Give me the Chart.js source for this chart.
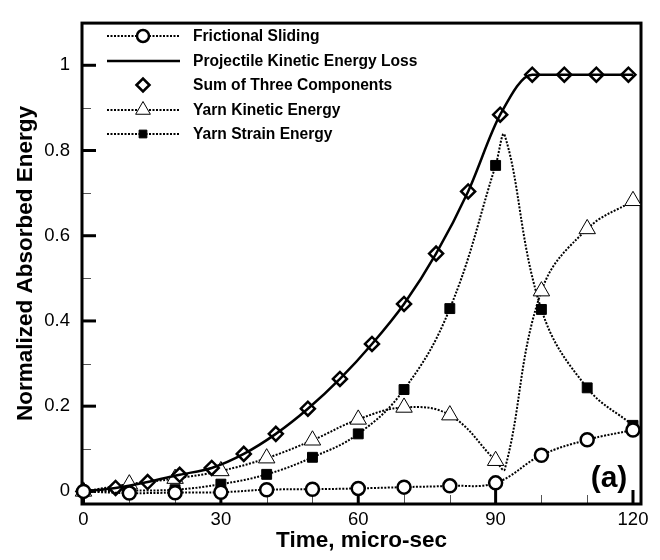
<!DOCTYPE html>
<html>
<head>
<meta charset="utf-8">
<script src="https://cdn.jsdelivr.net/npm/chart.js@4.4.1/dist/chart.umd.min.js"></script>
<style>
    html, body { margin: 0; padding: 0; background: #fff; }
    #energy-chart { display: block; }
</style>
</head>
<body>
<canvas id="energy-chart" width="660" height="560"></canvas>
<script>
// time points (micro-sec) and normalized energies
var frictionTime = [0, 10, 20, 30, 40, 50, 60, 70, 80, 90, 100, 110, 120];
var frictionalSliding = [0, -0.004, -0.003, -0.002, 0.004, 0.005, 0.007, 0.010, 0.013, 0.020, 0.085, 0.121, 0.144];

var projectileTime = [0, 7, 14, 21, 28, 35, 42, 49, 56, 63, 70, 77, 84, 91, 98, 105, 112, 119, 120];
var projectileLoss = [0, 0.008, 0.022, 0.039, 0.055, 0.088, 0.135, 0.194, 0.264, 0.346, 0.440, 0.558, 0.704, 0.884, 0.978, 0.978, 0.978, 0.978, 0.978];

var sumTime = [0, 7, 14, 21, 28, 35, 42, 49, 56, 63, 70, 77, 84, 91, 98, 105, 112, 119];
var sumOfThree = [0, 0.008, 0.022, 0.039, 0.055, 0.088, 0.135, 0.194, 0.264, 0.346, 0.440, 0.558, 0.704, 0.884, 0.978, 0.978, 0.978, 0.978];

// 92 is where the drawn curves turn (no marker there)
var kineticTime = [0, 10, 20, 30, 40, 50, 60, 70, 80, 90, 92, 100, 110, 120];
var yarnKinetic = [0, 0.017, 0.030, 0.048, 0.078, 0.120, 0.169, 0.197, 0.179, 0.072, 0.052, 0.470, 0.616, 0.682];

var strainTime = [0, 10, 20, 30, 40, 50, 60, 70, 80, 90, 92, 100, 110, 120];
var yarnStrain = [0, 0.002, 0.004, 0.017, 0.040, 0.080, 0.135, 0.239, 0.429, 0.765, 0.835, 0.427, 0.243, 0.155];

var yMajorTicks = [0, 0.2, 0.4, 0.6, 0.8, 1];
var yMinorTicks = [0.1, 0.3, 0.5, 0.7, 0.9];
var xMajorTicks = [0, 30, 60, 90, 120];
var xMinorTicks = [10, 20, 40, 50, 70, 80, 100, 110];

function toPoints(xs, ys) {
    return xs.map(function (x, i) { return { x: x, y: ys[i] }; });
}
function markerOnTens(r) {
    return function (c) { return (c.raw && c.raw.x % 10 !== 0) ? 0 : r; };
}

Chart.defaults.font.family = '"Liberation Sans", Arial, sans-serif';
Chart.defaults.color = '#000';

var dotted = [2, 1.5];

var framePlugin = {
    id: 'frameTicks',
    beforeDatasetsDraw: function (chart) {
        var ctx = chart.ctx, a = chart.chartArea;
        var xs = chart.scales.x, ys = chart.scales.y;
        ctx.save();
        ctx.lineCap = 'butt';
        // minor ticks
        ctx.lineWidth = 1;
        ctx.strokeStyle = '#555';
        yMinorTicks.forEach(function (v) {
            var p = Math.round(ys.getPixelForValue(v)) + 0.5;
            ctx.beginPath(); ctx.moveTo(a.left, p); ctx.lineTo(a.left + 9, p); ctx.stroke();
        });
        xMinorTicks.forEach(function (v) {
            var p = Math.round(xs.getPixelForValue(v)) + 0.5;
            ctx.beginPath(); ctx.moveTo(p, a.bottom); ctx.lineTo(p, a.bottom - 9); ctx.stroke();
        });
        // major ticks
        ctx.strokeStyle = '#000';
        ctx.lineWidth = 3;
        yMajorTicks.forEach(function (v) {
            var p = ys.getPixelForValue(v);
            ctx.beginPath(); ctx.moveTo(a.left, p); ctx.lineTo(a.left + 14, p); ctx.stroke();
        });
        xMajorTicks.forEach(function (v) {
            var p = xs.getPixelForValue(v);
            ctx.beginPath(); ctx.moveTo(p, a.bottom); ctx.lineTo(p, a.bottom - 14); ctx.stroke();
        });
        // frame
        ctx.strokeRect(a.left, a.top, a.right - a.left, a.bottom - a.top);
        ctx.restore();
    },
    afterDraw: function (chart) {
        var ctx = chart.ctx;
        var rows = [36, 61, 85, 110, 134];
        chart.data.datasets.forEach(function (ds, i) {
            var y = rows[i];
            ctx.save();
            ctx.strokeStyle = '#000';
            if (ds.showLine !== false) {
                ctx.lineWidth = ds.borderWidth;
                ctx.setLineDash(ds.borderDash || []);
                ctx.beginPath(); ctx.moveTo(107, y); ctx.lineTo(180, y); ctx.stroke();
            }
            ctx.setLineDash([]);
            if (ds.legendRadius) {
                ctx.fillStyle = ds.pointBackgroundColor;
                ctx.lineWidth = ds.pointBorderWidth;
                Chart.helpers.drawPoint(ctx, {
                    pointStyle: ds.pointStyle, radius: ds.legendRadius,
                    rotation: 0, borderWidth: ds.pointBorderWidth
                }, 143, y);
            }
            ctx.fillStyle = '#000';
            ctx.font = 'bold 15.6px "Liberation Sans", Arial, sans-serif';
            ctx.textBaseline = 'middle';
            ctx.fillText(ds.label, 193, y + 1);
            ctx.restore();
        });
        ctx.save();
        ctx.fillStyle = '#000';
        ctx.font = 'bold 30px "Liberation Sans", Arial, sans-serif';
        ctx.textAlign = 'center';
        ctx.textBaseline = 'middle';
        ctx.fillText('(a)', 609, 479);
        ctx.restore();
    }
};

var ctx = document.getElementById('energy-chart');
var chart = new Chart(ctx, {
    type: 'line',
    data: {
        datasets: [{
            label: 'Frictional Sliding',
            data: toPoints(frictionTime, frictionalSliding),
            borderColor: '#000',
            borderWidth: 2,
            borderDash: dotted,
            tension: 0.4,
            pointStyle: 'circle',
            pointRadius: 6.5,
            legendRadius: 6,
            pointBorderWidth: 2.5,
            pointBackgroundColor: '#fff',
            pointBorderColor: '#000',
            clip: false
        }, {
            label: 'Projectile Kinetic Energy Loss',
            data: toPoints(projectileTime, projectileLoss),
            borderColor: '#000',
            borderWidth: 2.5,
            cubicInterpolationMode: 'monotone',
            pointRadius: 0,
            legendRadius: 0,
            clip: false
        }, {
            label: 'Sum of Three Components',
            data: toPoints(sumTime, sumOfThree),
            showLine: false,
            pointStyle: 'rectRot',
            pointRadius: 7,
            legendRadius: 6.5,
            pointBorderWidth: 2.5,
            pointBackgroundColor: '#fff',
            pointBorderColor: '#000',
            clip: false
        }, {
            label: 'Yarn Kinetic Energy',
            data: toPoints(kineticTime, yarnKinetic),
            borderColor: '#000',
            borderWidth: 2,
            borderDash: dotted,
            tension: 0.4,
            pointStyle: 'triangle',
            pointRadius: markerOnTens(9.5),
            legendRadius: 8.5,
            pointBorderWidth: 1,
            pointBackgroundColor: '#fff',
            pointBorderColor: '#000',
            clip: false
        }, {
            label: 'Yarn Strain Energy',
            data: toPoints(strainTime, yarnStrain),
            borderColor: '#000',
            borderWidth: 2,
            borderDash: dotted,
            tension: 0.4,
            pointStyle: 'rect',
            pointRadius: markerOnTens(7),
            legendRadius: 5.5,
            pointBorderWidth: 1,
            pointBackgroundColor: '#000',
            pointBorderColor: '#000',
            clip: false
        }]
    },
    options: {
        responsive: false,
        animation: false,
        devicePixelRatio: 1,
        layout: { padding: { left: 0, top: 9, right: 19, bottom: 0 } },
        plugins: { legend: { display: false }, tooltip: { enabled: false } },
        scales: {
            x: {
                type: 'linear',
                min: -0.33,
                max: 121.75,
                afterBuildTicks: function (scale) {
                    scale.ticks = xMajorTicks.map(function (v) { return { value: v }; });
                },
                afterFit: function (scale) { scale.height = 56; },
                grid: { display: false, drawTicks: false },
                border: { display: false },
                ticks: { font: { size: 18.5 }, padding: 5, maxRotation: 0 },
                title: {
                    display: true,
                    text: 'Time, micro-sec',
                    font: { size: 22.5, weight: 'bold' },
                    padding: { top: 0, bottom: 5.5 }
                }
            },
            y: {
                type: 'linear',
                min: -0.0296,
                max: 1.099,
                afterBuildTicks: function (scale) {
                    scale.ticks = yMajorTicks.map(function (v) { return { value: v }; });
                },
                afterFit: function (scale) { scale.width = 82; },
                grid: { display: false, drawTicks: false },
                border: { display: false },
                ticks: {
                    font: { size: 18.5 },
                    padding: 12,
                    callback: function (v) { return String(+v.toFixed(1)); }
                },
                title: {
                    display: true,
                    text: 'Normalized Absorbed Energy',
                    font: { size: 22.5, weight: 'bold' },
                    padding: { top: 12.5, bottom: 0 }
                }
            }
        }
    },
    plugins: [framePlugin]
});
</script>
</body>
</html>
